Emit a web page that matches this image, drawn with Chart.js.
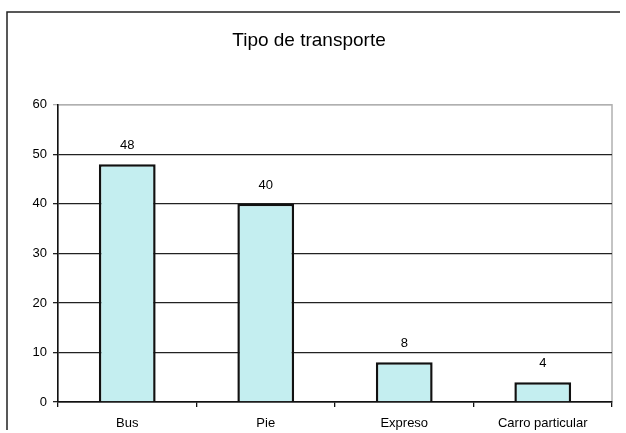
<!DOCTYPE html>
<html>
<head>
<meta charset="utf-8">
<script src="https://cdn.jsdelivr.net/npm/chart.js@4.4.0/dist/chart.umd.min.js"></script>
<style>
  html, body { margin: 0; padding: 0; background: #fff; }
  #wrap { width: 626px; height: 433px; position: relative; }
</style>
</head>
<body>
<div id="wrap"><canvas id="chart" width="626" height="433"></canvas></div>
<script>
// ===== Data =====
const categories = ["Bus", "Pie", "Expreso", "Carro particular"];
const values = [48, 40, 8, 4];
const yTicks = [0, 10, 20, 30, 40, 50, 60];

const FONT = "'Liberation Sans', Arial, sans-serif";

// ===== Frame + value labels =====
const framePlugin = {
  id: "frame",
  beforeDraw(chart) {
    const c = chart.ctx;
    const a = chart.chartArea;
    c.save();
    // outer frame (top + left only, like the scan)
    c.strokeStyle = "#222";
    c.lineWidth = 1.5;
    c.beginPath();
    c.moveTo(7, 430);
    c.lineTo(7, 12);
    c.lineTo(620, 12);
    c.stroke();
    // plot area border
    c.strokeStyle = "#b0b0b0";
    c.lineWidth = 1.5;
    c.strokeRect(a.left, a.top, a.right - a.left, a.bottom - a.top);
    c.restore();
  },
  afterDatasetsDraw(chart) {
    const c = chart.ctx;
    const meta = chart.getDatasetMeta(0);
    c.save();
    c.fillStyle = "#000";
    c.font = "13px " + FONT;
    c.textAlign = "center";
    c.textBaseline = "bottom";
    meta.data.forEach((bar, i) => {
      c.fillText(chart.data.datasets[0].data[i], bar.x, bar.y - 12);
    });
    c.restore();
  }
};

new Chart(document.getElementById("chart"), {
  type: "bar",
  data: {
    labels: categories,
    datasets: [{
      data: values,
      backgroundColor: "#c4eef0",
      borderColor: "#111",
      borderWidth: 2.5,
      categoryPercentage: 1,
      barPercentage: 0.41
    }]
  },
  options: {
    responsive: false,
    animation: false,
    layout: { padding: { left: 6, right: 14, top: 0, bottom: 0 } },
    plugins: {
      legend: { display: false },
      tooltip: { enabled: false },
      title: {
        display: true,
        text: "Tipo de transporte",
        color: "#000",
        font: { family: FONT, size: 19, weight: "normal" },
        padding: { top: 29, bottom: 53 }
      }
    },
    scales: {
      x: {
        afterFit(scale) { scale.height = 31; },
        grid: {
          offset: true,
          drawOnChartArea: false,
          drawTicks: true,
          tickLength: 5,
          color: "#111",
          lineWidth: 1.3
        },
        border: { color: "#111", width: 1.5 },
        ticks: {
          color: "#000",
          font: { family: FONT, size: 13 },
          padding: 9
        }
      },
      y: {
        min: 0,
        max: 60,
        afterFit(scale) { scale.width = 52; },
        afterBuildTicks(scale) { scale.ticks = yTicks.map(v => ({ value: v })); },
        grid: {
          color: ctx => (ctx.tick && ctx.tick.value === 60 ? "#b0b0b0" : "#222"),
          lineWidth: 1.3,
          tickLength: 5
        },
        border: { color: "#111", width: 1.5 },
        ticks: {
          color: "#000",
          font: { family: FONT, size: 13 },
          padding: 6
        }
      }
    }
  },
  plugins: [framePlugin]
});
</script>
</body>
</html>
